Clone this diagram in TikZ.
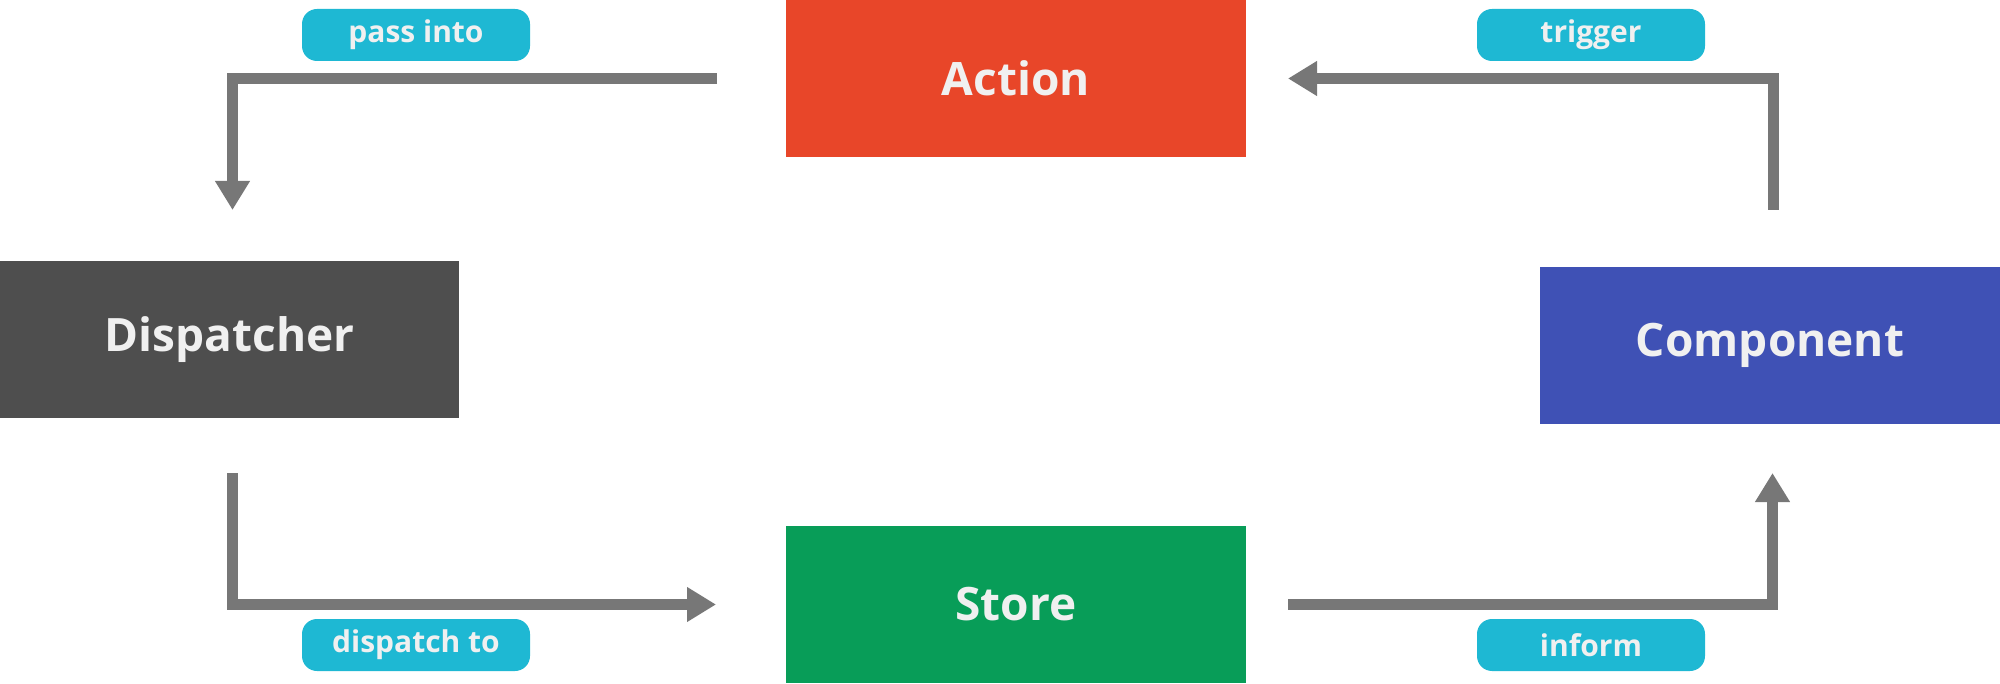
\documentclass[tikz,border=0pt]{standalone}
\usepackage{fontspec}
\setmainfont{Open Sans}[BoldFont={Open Sans Bold}]
\usetikzlibrary{arrows.meta}
\definecolor{cAction}{HTML}{E84629}
\definecolor{cDisp}{HTML}{4E4E4E}
\definecolor{cComp}{HTML}{3F51B5}
\definecolor{cStore}{HTML}{089D58}
\definecolor{cLabel}{HTML}{1EB8D3}
\definecolor{cArrow}{HTML}{777777}
\definecolor{cText}{HTML}{F0F0F0}
\tikzset{
  mainbox/.style={rectangle, inner sep=0pt, minimum height=157pt, text=cText,
    font=\fontsize{46}{50}\selectfont\bfseries},
  tagbox/.style={rectangle, rounded corners=15pt, fill=cLabel, inner sep=0pt,
    minimum height=52pt, minimum width=228pt, text=cText,
    font=\fontsize{30}{34}\selectfont\bfseries},
  flow/.style={draw=cArrow, line width=11pt, line join=miter, line cap=butt,
    -{Triangle[length=29pt,width=33pt]}},
}
\begin{document}
\begin{tikzpicture}[x=1pt,y=-1pt]
\useasboundingbox (0,0) rectangle (2000,684);
% main boxes
\node[mainbox, fill=cAction, minimum width=460pt] (action) at (1016,78.5) {Action};
\node[mainbox, fill=cDisp, minimum width=459pt] (disp) at (229.5,339.5) {Dispatcher};
\node[mainbox, fill=cComp, minimum width=460pt] (comp) at (1770,345.5) {Component};
\node[mainbox, fill=cStore, minimum width=460pt] (store) at (1016,604.5) {Store};
% tags
\node[tagbox] (tpass) at (416,35) {pass into};
\node[tagbox] (ttrig) at (1591,35) {trigger};
\node[tagbox] (tdisp) at (416,645) {dispatch to};
\node[tagbox] (tinf) at (1591,645) {inform};
% connector ends
\coordinate (pA) at (717,78.5);
\coordinate (pB) at (232.5,210);
\coordinate (tA) at (1773,210);
\coordinate (tB) at (1288,78.5);
\coordinate (dA) at (232.5,473);
\coordinate (dB) at (716,604.5);
\coordinate (iA) at (1288,604);
\coordinate (iB) at (1772.5,473);
% connectors
\draw[flow] (pA) -| (pB);
\draw[flow] (tA) |- (tB);
\draw[flow] (dA) |- (dB);
\draw[flow] (iA) -| (iB);
\end{tikzpicture}
\end{document}
